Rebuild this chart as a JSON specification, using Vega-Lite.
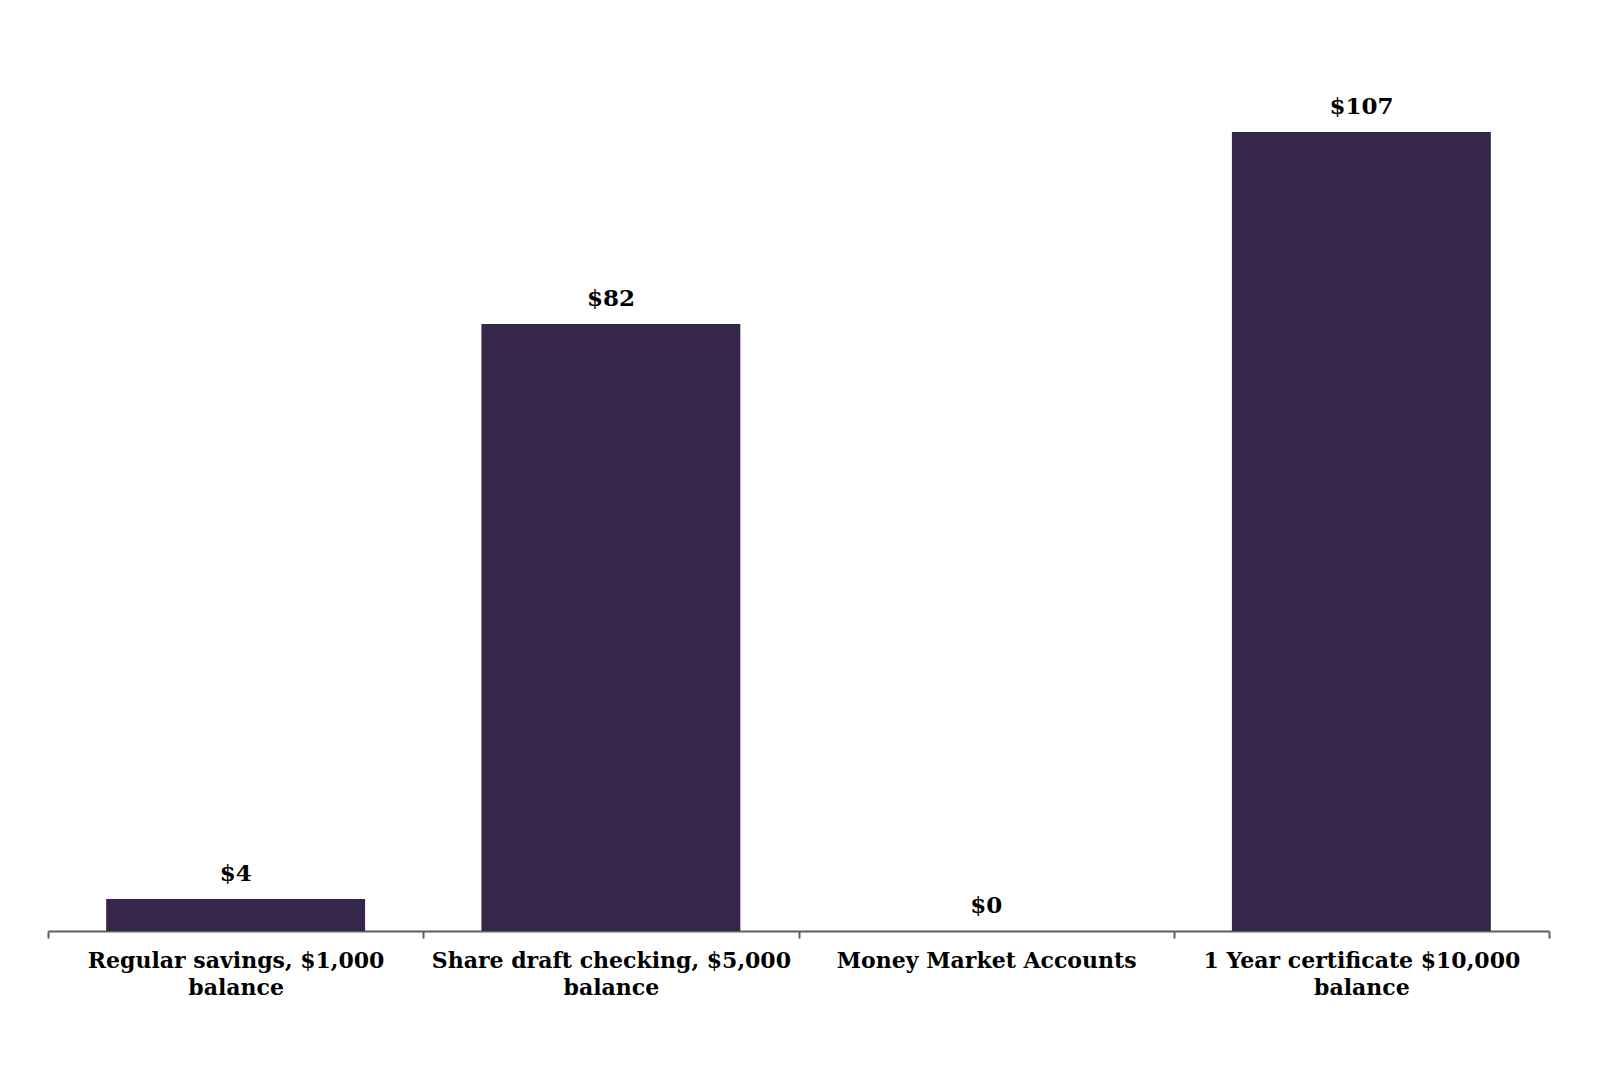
{
  "$schema": "https://vega.github.io/schema/vega-lite/v6.json",
  "width": 1501,
  "height": 896,
  "autosize": {"type": "none"},
  "padding": {"left": 48, "top": 35, "right": 71, "bottom": 142},
  "background": "white",
  "config": {"view": {"stroke": null}},
  "data": {
    "values": [
      {"category": "Regular savings, $1,000 balance", "value": 4.3, "label": "$4"},
      {"category": "Share draft checking, $5,000 balance", "value": 81.3, "label": "$82"},
      {"category": "Money Market Accounts", "value": 0, "label": "$0"},
      {"category": "1 Year certificate $10,000 balance", "value": 107, "label": "$107"}
    ]
  },
  "encoding": {
    "x": {
      "field": "category",
      "type": "nominal",
      "sort": null,
      "scale": {"paddingInner": 0, "paddingOuter": 0},
      "axis": {
        "title": null,
        "labelAngle": 0,
        "tickBand": "extent",
        "domainColor": "#5f5f5f",
        "domainWidth": 2,
        "tickColor": "#5f5f5f",
        "tickWidth": 2,
        "tickSize": 7,
        "labelPadding": 12,
        "labelFont": "DejaVu Serif",
        "labelFontWeight": "bold",
        "labelFontSize": 22,
        "labelColor": "#000000",
        "labelLineHeight": 27,
        "labelLimit": 400,
        "labelOverlap": false,
        "labelExpr": "isString(datum.label) && indexof(datum.label, ' balance') > 0 ? [slice(datum.label, 0, length(datum.label) - 8), 'balance'] : datum.label"
      }
    },
    "y": {
      "field": "value",
      "type": "quantitative",
      "scale": {"domain": [0, 120]},
      "axis": null
    }
  },
  "layer": [
    {"mark": {"type": "bar", "color": "#36264a", "width": {"band": 0.69}}},
    {
      "mark": {"type": "text", "baseline": "alphabetic", "dy": -18, "font": "DejaVu Serif", "fontWeight": "bold", "fontSize": 23, "color": "#000000"},
      "encoding": {"text": {"field": "label"}}
    }
  ]
}
